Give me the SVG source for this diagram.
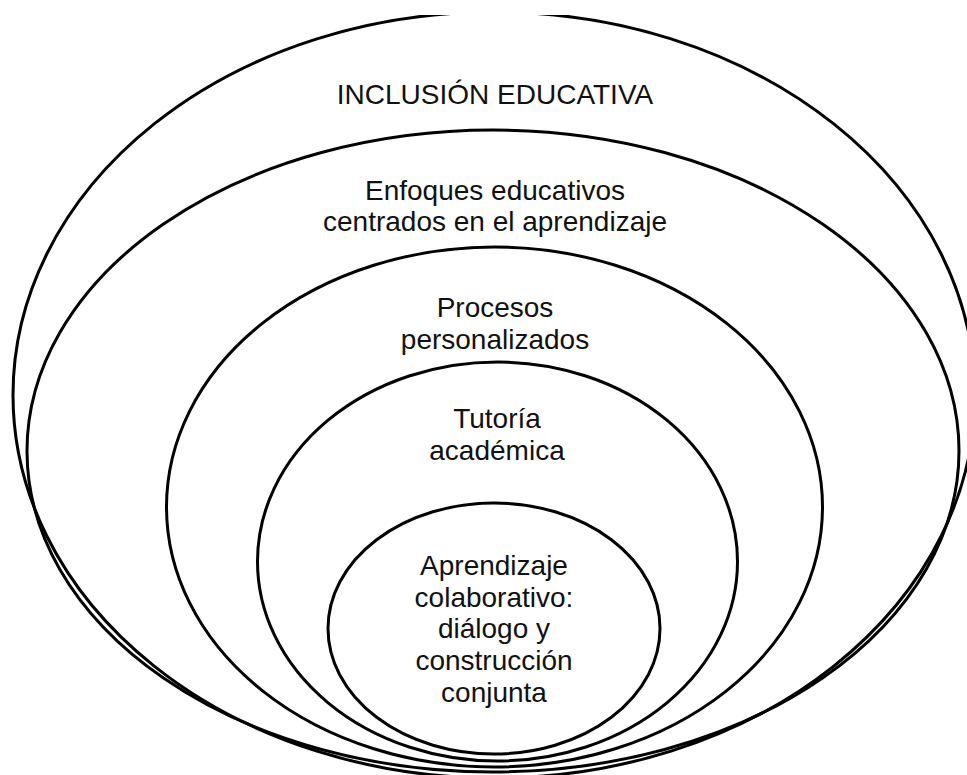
<svg xmlns="http://www.w3.org/2000/svg" width="967" height="775" viewBox="0 0 967 775">
<style>
.e{fill:none;stroke:#000;stroke-width:3}
.t{font-family:"Liberation Sans",Arial,sans-serif;font-size:28px;fill:#111;text-anchor:middle}
</style>
<defs><clipPath id="c"><rect x="0" y="15" width="967" height="760"/></clipPath></defs>
<rect width="967" height="775" fill="#fff"/>
<g id="n1"><ellipse class="e" clip-path="url(#c)" cx="494" cy="395" rx="481" ry="383"/><text class="t" x="495" y="104">INCLUSIÓN EDUCATIVA</text></g>
<g id="n2"><ellipse class="e" cx="493" cy="451" rx="466" ry="321"/><text class="t" x="495" y="200">Enfoques educativos</text><text class="t" x="495" y="231">centrados en el aprendizaje</text></g>
<g id="n3"><ellipse class="e" cx="494.5" cy="507" rx="328" ry="260"/><text class="t" x="495" y="317">Procesos</text><text class="t" x="495" y="349">personalizados</text></g>
<g id="n4"><ellipse class="e" cx="497.5" cy="561.5" rx="240" ry="199.5"/><text class="t" x="497" y="428">Tutoría</text><text class="t" x="497" y="460">académica</text></g>
<g id="n5"><ellipse class="e" cx="494" cy="628.5" rx="166" ry="125.5"/><text class="t" x="494" y="575">Aprendizaje</text><text class="t" x="494" y="607">colaborativo:</text><text class="t" x="494" y="638">diálogo y</text><text class="t" x="494" y="670">construcción</text><text class="t" x="494" y="702">conjunta</text></g>
<g id="connectors"/>
</svg>
